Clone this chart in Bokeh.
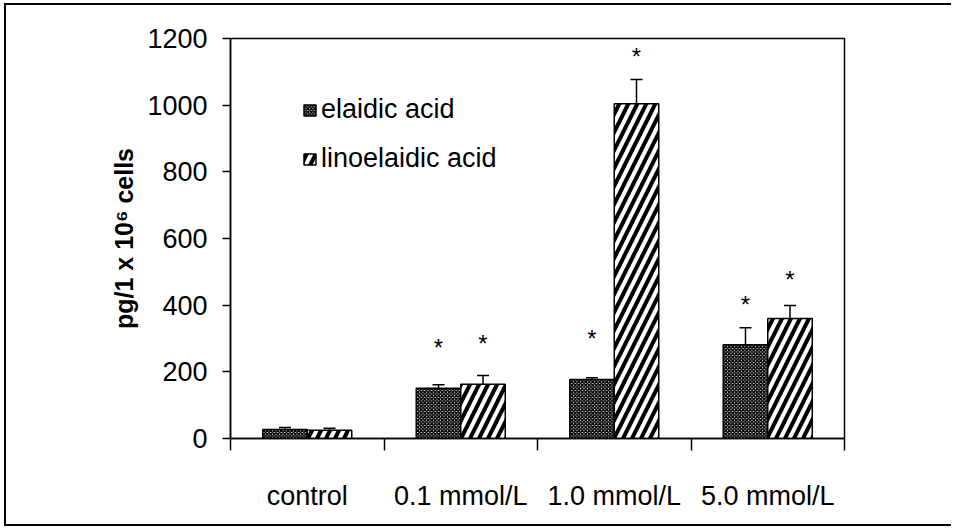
from bokeh.plotting import figure
from bokeh.models import (ColumnDataSource, Range1d, FixedTicker, Whisker, TeeHead,
                          Legend, LegendItem)
from bokeh.core.properties import value
from bokeh.embed import file_html
from bokeh.resources import INLINE

categories = ["control", "0.1 mmol/L", "1.0 mmol/L", "5.0 mmol/L"]
elaidic = [27, 151, 177, 281]
elaidic_err = [6, 10, 5, 51]
linoelaidic = [25, 163, 1004, 360]
linoelaidic_err = [6, 26, 73, 39]
# asterisk heights (significance marks), for categories 1..3
star_elaidic = [None, 279, 306, 409]
star_linoelaidic = [None, 292, 1152, 482]
y_ticks = [0, 200, 400, 600, 800, 1000, 1200]

FONT = "Liberation Sans"
OFF = 0.145
W = 0.29

centers = [i + 0.5 for i in range(len(categories))]
src_e = ColumnDataSource(dict(x=[c - OFF for c in centers], top=elaidic,
                              upper=[v + e for v, e in zip(elaidic, elaidic_err)]))
src_l = ColumnDataSource(dict(x=[c + OFF for c in centers], top=linoelaidic,
                              upper=[v + e for v, e in zip(linoelaidic, linoelaidic_err)]))

p = figure(width=947, height=523, output_backend="svg", toolbar_location=None,
           x_range=Range1d(0, len(categories)), y_range=Range1d(0, 1200),
           min_border_left=224, min_border_right=109, min_border_top=33,
           min_border_bottom=90)
p.styles = {"border-left": "2px solid black", "border-top": "2px solid black",
            "border-bottom": "2px solid black", "margin-left": "4px",
            "margin-top": "3px"}
p.grid.visible = False
p.outline_line_color = "black"
p.outline_line_width = 1.5
p.background_fill_color = "white"

# whiskers first (drawn under bars)
for src in (src_e, src_l):
    wk = Whisker(source=src, base="x", upper="upper", lower="top", dimension="height",
                 line_color="black", line_width=1.5,
                 upper_head=TeeHead(size=12, line_color="black", line_width=1.5),
                 lower_head=None)
    p.add_layout(wk)

r_e = p.vbar(x="x", top="top", width=W, bottom=0, source=src_e,
             fill_color="white", line_color="black", line_width=1.5,
             hatch_pattern="x", hatch_scale=3.5, hatch_weight=1.6, hatch_color="black")
r_l = p.vbar(x="x", top="top", width=W, bottom=0, source=src_l,
             fill_color="white", line_color="black", line_width=1.5,
             hatch_pattern="/", hatch_scale=18, hatch_weight=4, hatch_color="black")

sx, sy = [], []
for i, c in enumerate(centers):
    if star_elaidic[i] is not None:
        sx.append(c - OFF); sy.append(star_elaidic[i])
    if star_linoelaidic[i] is not None:
        sx.append(c + OFF); sy.append(star_linoelaidic[i])
p.text(x=sx, y=sy, text=["*"] * len(sx), text_align="center", text_baseline="middle",
       text_font=value(FONT), text_font_size="24px", y_offset=2,
       text_color="black")

# axes
p.yaxis.ticker = FixedTicker(ticks=y_ticks)
p.yaxis.major_tick_out = 8
p.yaxis.major_tick_in = 0
p.yaxis.minor_tick_line_color = None
p.yaxis.major_label_standoff = 15
p.yaxis.major_label_text_font = FONT
p.yaxis.major_label_text_font_size = "27px"
p.yaxis.major_label_text_color = "black"
p.yaxis.axis_line_width = 1.5
p.yaxis.major_tick_line_width = 1.5
p.yaxis.axis_label = "pg/1 x 10\u2076 cells"
p.yaxis.axis_label_text_font = FONT
p.yaxis.axis_label_text_font_style = "bold"
p.yaxis.axis_label_text_font_size = "25px"
p.yaxis.axis_label_text_color = "black"
p.yaxis.axis_label_standoff = 6

p.xaxis.ticker = FixedTicker(ticks=centers, minor_ticks=list(range(len(categories) + 1)))
p.xaxis.major_label_overrides = {c: n for c, n in zip(centers, categories)}
p.xaxis.major_tick_line_color = None
p.xaxis.major_tick_out = 12
p.xaxis.major_tick_in = 0
p.xaxis.minor_tick_out = 12
p.xaxis.minor_tick_in = 0
p.xaxis.minor_tick_line_width = 1.5
p.xaxis.axis_line_width = 1.5
p.xaxis.major_label_standoff = 30
p.xaxis.major_label_text_font = FONT
p.xaxis.major_label_text_font_size = "27px"
p.xaxis.major_label_text_color = "black"

legend = Legend(items=[LegendItem(label="elaidic acid", renderers=[r_e]),
                       LegendItem(label="linoelaidic acid", renderers=[r_l])],
                location=(72, 264), orientation="vertical",
                border_line_color=None, background_fill_alpha=0,
                padding=0, margin=0, spacing=18,
                glyph_width=15, glyph_height=14, label_standoff=4,
                label_text_font=FONT, label_text_font_size="27px",
                label_text_color="black")
p.add_layout(legend)

open("out.html", "w").write(file_html(p, INLINE))
